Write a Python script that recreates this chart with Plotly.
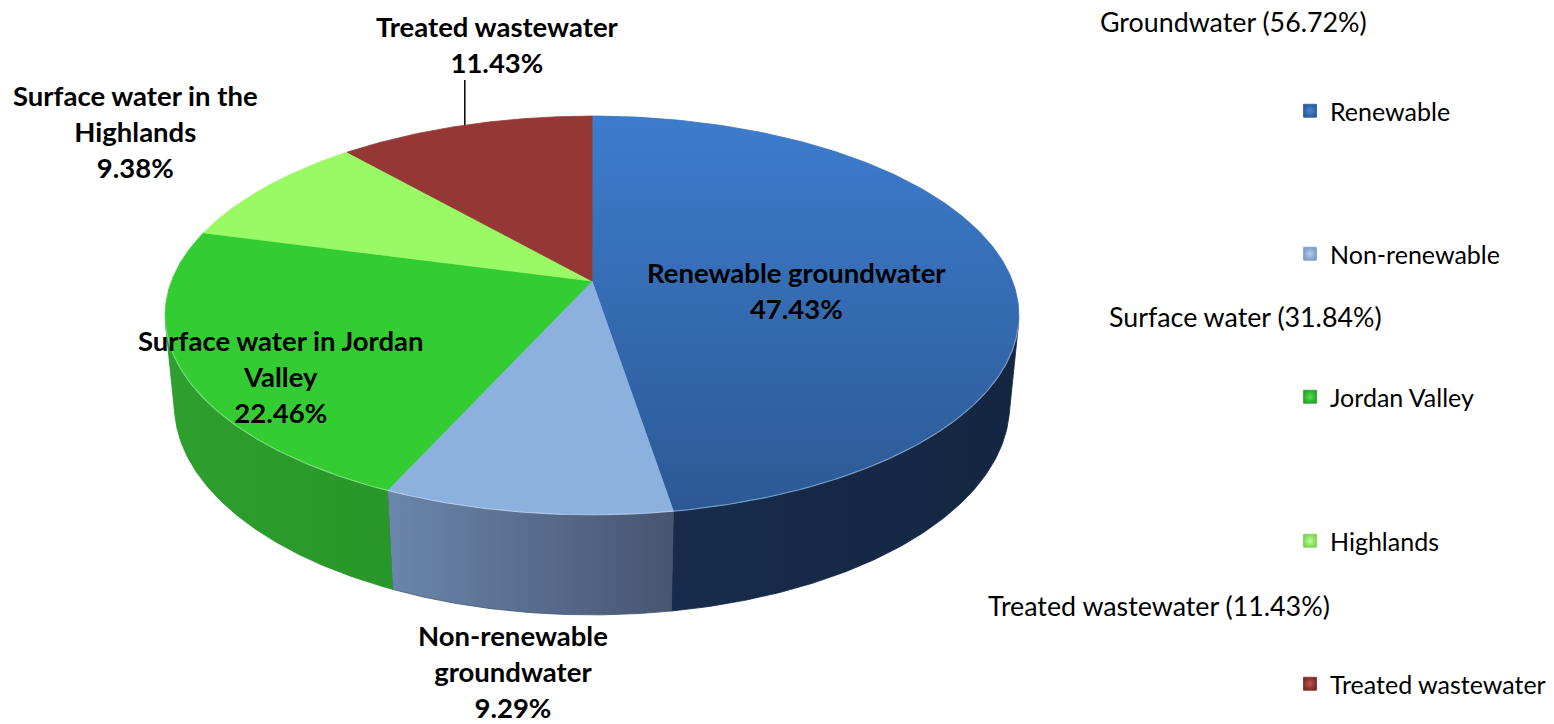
import numpy as np
import plotly.graph_objects as go

# ---------------- data ----------------
categories = ["Renewable groundwater", "Non-renewable groundwater",
              "Surface water in Jordan Valley", "Surface water in the Highlands",
              "Treated wastewater"]
values = [47.43, 9.29, 22.46, 9.38, 11.43]
legend_names = ["Renewable", "Non-renewable", "Jordan Valley", "Highlands", "Treated wastewater"]
groups = ["Groundwater", "Groundwater", "Surface water", "Surface water", "Treated wastewater"]
group_order = ["Groundwater", "Surface water", "Treated wastewater"]
label_lines = [["Renewable groundwater"], ["Non-renewable", "groundwater"],
               ["Surface water in Jordan", "Valley"], ["Surface water in the", "Highlands"],
               ["Treated wastewater"]]

# ---------------- styles ----------------
top_colors = ["#3570bd", "#8db1df", "#33cc33", "#99fa66", "#953735"]
top_grad = [["#3d7ccd", "#2c5994"], None, None, None, None]
wall_colors = [["#172c4c", "#142641"], ["#6b86ac", "#465570"], ["#2ea02e", "#289628"],
               ["#7cc94f", "#6ab544"], ["#6e2624", "#5a1f1d"]]
legend_marker = ["#2a5c9e", "#7f9fc8", "#27a827", "#7fd64f", "#7e2c2a"]
legend_marker_c = ["#4a8ad8", "#b4cdec", "#55dd55", "#bbff99", "#c05552"]

W, H = 1554, 724
FONT = "Lato"

# perspective projection of a flat cylinder (3-D pie)
CX, CY = 592.0, 281.0
FOC, DIST = 2160.0, 5.137
S_E = 0.46
C_E = np.sqrt(1 - S_E ** 2)
THICK = 0.241


def project(phi, z):
    x = np.sin(phi)
    y = np.cos(phi)
    depth = DIST + y * C_E - z * S_E
    up = y * S_E + z * C_E
    return CX + FOC * x / depth, CY - FOC * up / depth


total = sum(values)
bounds = np.concatenate([[0], np.cumsum(values)]) / total * 2 * np.pi
vis_lo = np.arccos(-1 / (DIST * C_E))
vis_hi = 2 * np.pi - vis_lo

fig = go.Figure()

# side walls (only the part facing the viewer)
for i in range(len(values)):
    a0, a1 = max(bounds[i], vis_lo), min(bounds[i + 1], vis_hi)
    if a1 <= a0:
        continue
    ph = np.linspace(a0, a1, 120)
    xt, yt = project(ph, 0.0)
    xb, yb = project(ph[::-1], -THICK)
    xs = np.concatenate([xt, xb, xt[:1]])
    ys = np.concatenate([yt, yb, yt[:1]])
    fig.add_trace(go.Scatter(
        x=xs, y=ys, mode="lines", fill="toself",
        line=dict(width=0.8, color=wall_colors[i][1]),
        fillgradient=dict(type="horizontal",
                          colorscale=[[0, wall_colors[i][0]], [1, wall_colors[i][1]]]),
        hoverinfo="skip", showlegend=False))

# top faces
for i in range(len(values)):
    ph = np.linspace(bounds[i], bounds[i + 1], 200)
    xt, yt = project(ph, 0.0)
    xs = np.concatenate([[CX], xt, [CX]])
    ys = np.concatenate([[CY], yt, [CY]])
    kw = {}
    if top_grad[i]:
        kw["fillgradient"] = dict(type="vertical",
                                  colorscale=[[0, top_grad[i][1]], [1, top_grad[i][0]]])
    else:
        kw["fillcolor"] = top_colors[i]
    fig.add_trace(go.Scatter(
        x=xs, y=ys, mode="lines", fill="toself",
        line=dict(width=0.8, color=top_colors[i]),
        hoverinfo="text", text=f"{categories[i]}: {values[i]:.2f}%",
        showlegend=False, **kw))

# front highlight rim
ph = np.linspace(vis_lo, vis_hi, 300)
xr, yr = project(ph, 0.0)
fig.add_trace(go.Scatter(x=xr, y=yr, mode="lines",
                         line=dict(width=1.2, color="rgba(255,255,255,0.35)"),
                         hoverinfo="skip", showlegend=False))

# leader line for Treated wastewater label
mid = (bounds[4] + bounds[5]) / 2
lx, ly = project(mid, 0.0)
fig.add_trace(go.Scatter(x=[lx, lx], y=[ly, 80], mode="lines",
                         line=dict(width=1.5, color="black"),
                         hoverinfo="skip", showlegend=False))

# legend entries (one legend per item so they can be spaced like the original)
legend_py = [111, 254, 397, 541, 684]
legend_x = 1290
layout_legends = {}
for i, name in enumerate(legend_names):
    key = "legend" if i == 0 else f"legend{i + 1}"
    fig.add_trace(go.Scatter(
        x=[None], y=[None], mode="markers", name=name,
        marker=dict(symbol="square", size=13, color=legend_marker[i],
                    gradient=dict(type="radial", color=legend_marker_c[i]),
                    line=dict(width=0.8, color=legend_marker[i])),
        legend=key, showlegend=True))
    layout_legends[key] = dict(
        x=legend_x / W, y=1 - legend_py[i] / H, xanchor="left", yanchor="middle",
        bgcolor="rgba(0,0,0,0)", borderwidth=0,
        font=dict(family=FONT, size=25, color="#000000"))

# slice labels
label_pos = [(796, 290), (513, 671), (281, 376), (135, 131), (497, 44)]
annotations = []
for i in range(len(values)):
    txt = "<br>".join(label_lines[i] + [f"{values[i]:.2f}%"])
    annotations.append(dict(
        x=label_pos[i][0], y=label_pos[i][1], xref="x", yref="y",
        text=txt, showarrow=False, align="center",
        font=dict(family=FONT, size=27.5, color="#000000", weight="bold")))

# group headers of the legend
group_tot = {g: sum(v for v, gg in zip(values, groups) if gg == g) for g in group_order}
header_pos = [(1098, 22), (1107, 317), (986, 606)]
for g, (hx, hy) in zip(group_order, header_pos):
    annotations.append(dict(
        x=hx, y=hy, xref="x", yref="y", xanchor="left", yanchor="middle",
        text=f"{g} ({group_tot[g]:.2f}%)", showarrow=False,
        font=dict(family=FONT, size=26.8, color="#000000")))

fig.update_layout(
    width=W, height=H, autosize=False,
    margin=dict(l=0, r=0, t=0, b=0, pad=0),
    paper_bgcolor="white", plot_bgcolor="white",
    xaxis=dict(range=[0, W], visible=False, fixedrange=True),
    yaxis=dict(range=[H, 0], visible=False, fixedrange=True),
    annotations=annotations,
    showlegend=True,
    **layout_legends,
)

fig.write_html("out.html",
               config={"displayModeBar": False},
               post_script="document.body.style.margin='0';"
                           "document.body.style.overflow='hidden';")
